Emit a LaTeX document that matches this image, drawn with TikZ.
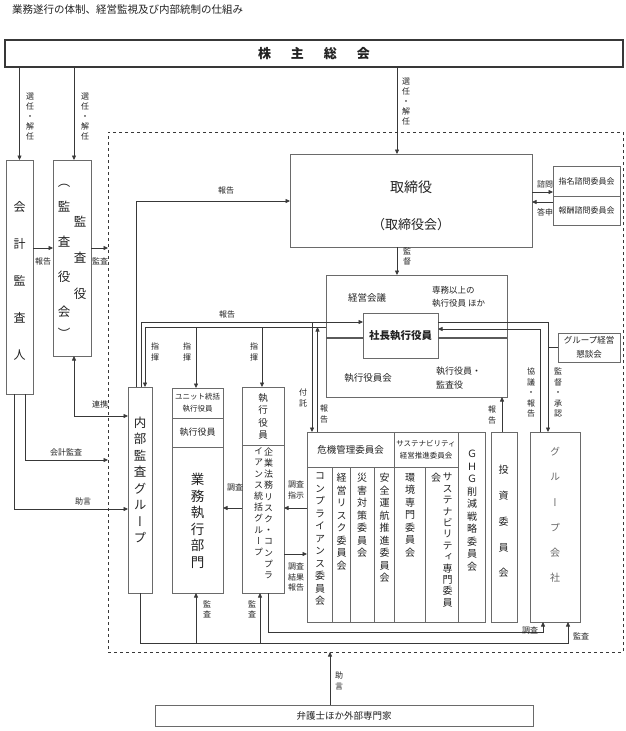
\documentclass[tikz,border=0pt]{standalone}
\usepackage{fontspec}
\setmainfont{Noto Sans CJK JP}
\newfontfamily\vfont{Noto Sans CJK JP}[RawFeature=+vert]
\usetikzlibrary{arrows.meta,calc}
\definecolor{txt}{HTML}{222222}
\definecolor{bxc}{HTML}{6A6A6A}
\definecolor{lnc}{HTML}{383838}
\makeatletter
\newcommand\vtxt[2]{\vbox{\vfont\baselineskip=#1pt\relax\lineskiplimit=-\maxdimen\lineskip=0pt\@tfor\vt@c:=#2\do{\hbox to 1em{\hss\vt@c\hss}}}}
\makeatother
\newcommand\bx[6][]{\node[box,minimum width={#5-#3},minimum height={#6-#4},#1] (#2) at ({(#3+#5)/2},{(#4+#6)/2}) {};}
\newcommand\vl[6][]{\node[inner sep=0pt,anchor=north,text=txt,font=\fontsize{#4}{#4}\selectfont,#1] at (#2,{#3-#4/2}) {\vtxt{#5}{#6}};}
\tikzset{
  box/.style={draw=bxc,line width=0.7pt,inner sep=0pt,outer sep=0pt,rectangle},
  arr/.style={draw=lnc,line width=0.7pt,-{Triangle[length=4.5pt,width=4pt]}},
  arr2/.style={draw=lnc,line width=0.7pt,{Triangle[length=4.5pt,width=4pt]}-{Triangle[length=4.5pt,width=4pt]}},
  ln/.style={draw=lnc,line width=0.7pt},
  lbl/.style={inner sep=0pt,text=txt,font=\fontsize{8}{10.5}\selectfont,align=center},
}
\begin{document}
\begin{tikzpicture}[x=1pt,y=-1pt]
\useasboundingbox (0,0) rectangle (625,731);
\fill[white] (0,0) rectangle (625,731);

\node[lbl,anchor=west,font=\fontsize{10.5}{12}\selectfont] (title) at (12,10) {業務遂行の体制、経営監視及び内部統制の仕組み};

% ---------- boxes
\bx[line width=1.1pt,draw=lnc]{kabu}{5}{40}{623}{67}
\bx[dashed,draw=lnc,line width=0.8pt]{dash}{108}{132}{623}{652}
\bx{kaikei}{6}{160}{33}{394}
\bx{kansa}{53}{160}{91}{356}
\bx{tori}{290}{154}{532}{247}
\bx{shimei}{553}{166}{620}{196}
\bx{hoshu}{553}{196}{620}{225}
\bx{keiei}{326}{275}{507}{397}
\bx{shacho}{363}{313}{438}{358}
\bx{kondan}{558}{333}{620}{362}
\bx{naibu}{128}{387}{152}{593}
\bx{unit}{172}{388}{223}{418}
\bx{shikA}{172}{418}{223}{447}
\bx{gyomu}{172}{447}{223}{593}
\bx{shikB}{242}{387}{284}{445}
\bx{kigyo}{242}{445}{284}{593}
\bx{kiki}{307}{432}{394}{467}
\bx{cA}{307}{467}{332}{622}
\bx{cB}{332}{467}{350}{622}
\bx{cC}{350}{467}{374}{622}
\bx{cD}{374}{467}{394}{622}
\bx{sus}{394}{432}{458}{467}
\bx{cE}{394}{467}{425}{622}
\bx{cF}{425}{467}{458}{622}
\bx{ghg}{458}{432}{485}{622}
\bx{toshi}{491}{432}{517}{622}
\bx{group}{530}{432}{580}{622}
\bx{bengo}{155}{705}{533}{726}

% thick line in management box
\coordinate (m1) at ($(keiei.north west)+(0,63)$);
\draw[line width=1.8pt,draw=bxc!85!black] (m1) -- (m1 -| shacho.west) (m1 -| shacho.east) -- (m1 -| keiei.east);

% ---------- connectors
\coordinate (tA) at ($(tori.north west)+(107,0)$);
\draw[arr] (tA |- kabu.south) -- (tA);
\draw[arr] (tA |- tori.south) -- (tA |- keiei.north);
\draw[arr] (kaikei.north |- kabu.south) -- (kaikei.north);
\coordinate (kB) at ($(kansa.north)+(2,0)$);
\draw[arr] (kB |- kabu.south) -- (kB);
\coordinate (h1) at ($(kaikei.north east)+(0,88)$);
\draw[arr] (h1) -- (h1 -| kansa.west);
\draw[arr] (h1 -| kansa.east) -- (h1 -| dash.west);
\coordinate (r1) at ($(naibu.north west)+(0,29)$);
\draw[arr2] (kB |- kansa.south) |- (r1);
\coordinate (kC) at ($(kaikei.south)+(5.5,0)$);
\coordinate (r2) at ($(dash.north west)+(0,328)$);
\draw[arr] (kC) |- (r2);
\coordinate (kD) at ($(kaikei.south)+(-5.5,0)$);
\coordinate (r3) at ($(naibu.north west)+(0,122)$);
\draw[arr] (kD) |- (r3);

\coordinate (nA) at ($(naibu.north west)+(8,0)$);
\coordinate (r4) at ($(tori.north west)+(0,47)$);
\draw[arr] (nA) |- (r4);
\coordinate (nB) at ($(naibu.north west)+(13,0)$);
\coordinate (jr) at ($(shacho.north west)+(0,9)$);
\draw[arr] (nB) |- (jr);
\coordinate (sk) at ($(keiei.north west)+(0,52)$);
\coordinate (nC) at ($(naibu.north west)+(17,0)$);
\draw[arr] (sk) -| (nC);
\coordinate (uA) at ($(unit.north)+(-1.5,0)$);
\draw[arr] (uA |- sk) -- (uA);
\coordinate (uB) at ($(shikB.north)+(-1,0)$);
\draw[arr] (uB |- sk) -- (uB);
\coordinate (fA) at ($(kiki.north west)+(5,0)$);
\draw[arr] (fA |- jr) -- (fA);
\coordinate (fB) at ($(kiki.north west)+(10.5,0)$);
\draw[arr] (fB) -- (fB |- sk);

\coordinate (sA) at ($(shimei.north west)+(0,26)$);
\draw[arr] (sA -| tori.east) -- (sA);
\coordinate (sB) at ($(hoshu.north west)+(0,6)$);
\draw[arr] (sB) -- (sB -| tori.east);

\coordinate (gA) at ($(group.north west)+(18,0)$);
\draw[arr] (jr -| shacho.east) -| (gA);
\coordinate (gB) at ($(group.north west)+(10,0)$);
\coordinate (jr2) at ($(shacho.north east)+(0,16)$);
\draw[arr] (gB) |- (jr2);
\draw[ln] (kondan.west) -- (kondan.west -| gA);
\coordinate (tB) at ($(toshi.north)+(-2,0)$);
\draw[arr] (tB) -- (tB |- keiei.south);

\coordinate (cy) at ($(kigyo.north west)+(0,63)$);
\draw[arr] (cy) -- (cy -| gyomu.east);
\draw[arr] (cy -| cA.west) -- (cy -| kigyo.east);
\coordinate (cz) at ($(kigyo.north east)+(0,109)$);
\draw[arr] (cz) -- (cz -| cA.west);

\coordinate (bA) at ($(naibu.south)+(0,50)$);
\coordinate (gC) at ($(group.south west)+(38,0)$);
\draw[arr] (naibu.south) |- (bA -| gC) -- (gC);
\coordinate (gy) at ($(gyomu.south)+(-1.5,0)$);
\draw[arr] (gy |- bA) -- (gy);
\coordinate (kE) at ($(kigyo.south)+(-3,0)$);
\draw[arr] (kE |- bA) -- (kE);
\coordinate (kF) at ($(kigyo.south)+(5,0)$);
\coordinate (gD) at ($(group.south west)+(13,0)$);
\draw[arr] (kF) |- ($(gD)+(0,10)$) -- (gD);
\coordinate (bn) at ($(bengo.north west)+(175,0)$);
\draw[arr] (bn) -- (bn |- dash.south);

% ---------- horizontal labels
\node[lbl] at (43,261) {報告};
\node[lbl] at (100,261) {監査};
\node[lbl] at (226,190) {報告};
\node[lbl] at (227,314) {報告};
\node[lbl] at (100,404) {連携};
\node[lbl] at (66,452) {会計監査};
\node[lbl] at (83,501) {助言};
\node[lbl] at (545,184) {諮問};
\node[lbl] at (545,212) {答申};
\node[lbl] at (235,487) {調査};
\node[lbl] at (296,490) {調査\\指示};
\node[lbl] at (296,577) {調査\\結果\\報告};
\node[lbl] at (530,630) {調査};
\node[lbl] at (581,636) {監査};

% ---------- vertical labels
\vl{30}{97}{8}{10}{選任・解任}
\vl{85}{97}{8}{10}{選任・解任}
\vl{406}{82}{8}{10}{選任・解任}
\vl{407}{252}{8}{9.5}{監督}
\vl{155}{347}{8}{10.5}{指揮}
\vl{187}{347}{8}{10.5}{指揮}
\vl{254}{347}{8}{10.5}{指揮}
\vl{303}{393}{8}{10.5}{付託}
\vl{324}{409}{8}{10.5}{報告}
\vl{492}{410}{8}{10.5}{報告}
\vl{531}{372}{8}{10.5}{協議・報告}
\vl{558}{372}{8}{10.5}{監督・承認}
\vl{207}{605}{8}{10}{監査}
\vl{252}{605}{8}{10}{監査}
\vl{339}{676}{8}{10.5}{助言}

% ---------- box texts
\node[font=\fontsize{13}{13}\selectfont\bfseries,text=txt,inner sep=0pt] (kabuT) at (kabu) {株\hspace{20pt}主\hspace{20pt}総\hspace{20pt}会};
\vl{19.5}{207}{12}{37}{会計監査人}
\vl{80}{222}{12.5}{36}{監査役}
\vl{64}{190}{12.5}{10}{（}
\vl{64}{207}{12.5}{35}{監査役会}
\vl{64}{334}{12.5}{10}{）}
\node[lbl,font=\fontsize{14}{14}\selectfont] (toriA) at (411,187) {取締役};
\node[lbl,font=\fontsize{13}{13}\selectfont] (toriB) at (411,225) {（取締役会）};
\node[lbl,font=\fontsize{8}{8}\selectfont] (shimeiT) at (shimei) {指名諮問委員会};
\node[lbl,font=\fontsize{8}{8}\selectfont] (hoshuT) at (hoshu) {報酬諮問委員会};
\node[lbl,font=\fontsize{9.5}{9.5}\selectfont] (kaigi) at (367,298) {経営会議};
\node[lbl,align=left,anchor=west,font=\fontsize{8.5}{13}\selectfont] (senmu) at (432,296.5) {専務以上の\\執行役員 ほか};
\node[lbl,font=\fontsize{10.5}{10.5}\selectfont\bfseries] (shachoT) at (shacho) {社長執行役員};
\node[lbl,font=\fontsize{9.5}{9.5}\selectfont] (shikkai) at (368,378) {執行役員会};
\node[lbl,align=left,anchor=west,font=\fontsize{9}{14}\selectfont] (shkan) at (436,378) {執行役員・\\監査役};
\node[lbl,font=\fontsize{8.5}{13.5}\selectfont] (kondanT) at (kondan) {グループ経営\\懇談会};
\node[lbl,font=\fontsize{7.5}{12}\selectfont] (unitT) at (unit) {ユニット統括\\執行役員};
\node[lbl,font=\fontsize{9}{9}\selectfont] (shikAT) at (shikA) {執行役員};
\vl{197.5}{480}{13.5}{16.5}{業務執行部門}
\vl{140}{423}{12.5}{16.5}{内部監査グループ}
\vl{263}{398}{9.5}{12.5}{執行役員}
\vl{268.5}{452}{9}{11.2}{企業法務リスク・コンプラ}
\vl{258.5}{452}{9}{11.2}{イアンス統括グループ}
\node[lbl,font=\fontsize{9.5}{9.5}\selectfont] (kikiT) at (kiki) {危機管理委員会};
\node[lbl,font=\fontsize{7.5}{11.5}\selectfont] (susT) at (sus) {サステナビリティ\\経営推進委員会};
\vl{320}{478}{10}{12.5}{コンプライアンス委員会}
\vl{341.5}{478}{10}{12.5}{経営リスク委員会}
\vl{362}{478}{10}{12.5}{災害対策委員会}
\vl{384.5}{478}{10}{12.5}{安全運航推進委員会}
\vl{410}{478}{10}{12.5}{環境専門委員会}
\vl{447.5}{478}{10}{11.4}{サステナビリティ専門委員}
\vl{436}{478}{10}{11.4}{会}
\vl{472}{455}{10}{12.5}{ＧＨＧ削減戦略委員会}
\vl{503.5}{470}{10}{25.8}{投資委員会}
\vl[text=black!60]{555}{452}{10}{25.3}{グループ会社}
\node[lbl,font=\fontsize{9.5}{9.5}\selectfont] (bengoT) at (bengo) {弁護士ほか外部専門家};
\end{tikzpicture}
\end{document}
